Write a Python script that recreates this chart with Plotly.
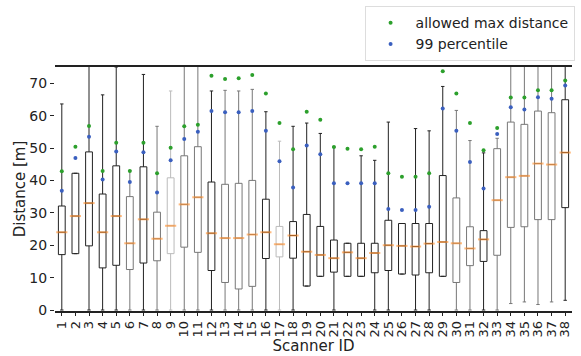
import plotly.graph_objects as go

# Scanner IDs and per-scanner distance statistics [m]
scanner_ids = list(range(1, 39))
q1 = [17.1, 17.4, 19.8, 13.0, 13.8, 12.5, 14.5, 15.2, 17.4, 19.4,
      17.8, 12.2, 8.5, 6.5, 7.3, 15.9, 16.4, 16.0, 7.4, 10.4,
      11.7, 10.4, 10.4, 11.5, 12.2, 11.1, 10.8, 11.5, 10.4, 8.5,
      13.7, 15.0, 16.9, 25.5, 25.7, 27.9, 27.9, 31.6]
median = [24.0, 29.0, 33.0, 24.0, 29.0, 20.6, 28.0, 22.0, 26.0, 32.6,
          34.8, 23.7, 22.2, 22.2, 23.3, 24.0, 20.3, 23.0, 18.0, 17.0,
          16.0, 17.8, 16.0, 17.6, 20.0, 19.8, 19.6, 20.5, 21.0, 20.6,
          19.0, 21.8, 33.9, 41.0, 41.4, 45.2, 44.9, 48.6]
q3 = [32.1, 42.2, 48.8, 35.8, 44.5, 35.0, 44.2, 30.2, 40.8, 47.6,
      50.4, 39.5, 38.8, 39.1, 40.0, 34.2, 25.8, 27.3, 29.5, 25.8,
      21.6, 20.6, 20.6, 20.6, 27.7, 26.7, 26.7, 26.7, 41.5, 34.6,
      25.7, 24.5, 49.8, 58.0, 57.3, 61.4, 60.9, 64.9]
whisker_low = [0.0, 17.4, 0.0, 0.0, 0.0, 0.0, 0.0, 0.0, 0.0, 0.0,
               0.0, 0.0, 0.0, 0.0, 0.0, 0.0, 0.0, 0.0, 7.4, 10.4,
               0.0, 10.4, 10.4, 0.0, 0.0, 11.1, 0.0, 0.0, 10.4, 0.0,
               0.0, 0.0, 0.0, 2.0, 2.5, 1.7, 2.5, 3.0]
whisker_high = [63.6, 42.2, 78.0, 66.4, 75.0, 43.0, 72.7, 56.7, 67.6, 78.0,
                78.0, 67.6, 67.8, 67.6, 68.1, 61.2, 52.1, 56.7, 57.7, 54.5,
                50.3, 20.6, 47.6, 46.2, 58.0, 26.7, 56.0, 55.3, 69.0, 61.6,
                52.3, 48.5, 53.0, 78.0, 78.0, 78.0, 78.0, 78.0]
allowed_max = [42.8, 50.4, 56.8, 42.9, 51.6, 42.9, 51.6, 42.2, 50.1, 56.7,
               57.2, 72.3, 71.3, 71.5, 72.5, 66.8, 57.7, 49.6, 61.2, 58.7,
               50.3, 49.8, 49.6, 50.4, 42.2, 41.1, 41.1, 42.2, 73.7, 66.8,
               57.7, 49.3, 56.2, 65.6, 65.6, 67.8, 67.8, 70.8]
p99 = [36.8, 46.9, 53.5, 40.3, 48.9, 39.5, 48.7, 36.3, 46.2, 52.8,
       55.0, 61.4, 61.0, 61.0, 61.4, 55.3, 45.9, 37.8, 50.8, 48.1,
       39.1, 39.1, 39.1, 39.1, 31.2, 30.9, 30.9, 31.9, 62.2, 55.3,
       45.7, 37.5, 54.3, 62.6, 61.9, 65.7, 65.2, 69.3]

# Outline shade of each box
DARK, MID, LIGHT = "#222222", "#777777", "#bbbbbb"
box_shade = [DARK, DARK, DARK, DARK, DARK, MID, DARK, MID, LIGHT, MID,
             MID, DARK, MID, MID, MID, DARK, LIGHT, DARK, DARK, DARK,
             DARK, DARK, DARK, DARK, DARK, DARK, DARK, DARK, DARK, MID,
             MID, DARK, MID, MID, MID, MID, MID, DARK]

FONT = "DejaVu Sans"
fig = go.Figure()

for i, sid in enumerate(scanner_ids):
    fig.add_trace(go.Box(
        x=[sid], q1=[q1[i]], median=[median[i]], q3=[q3[i]],
        lowerfence=[whisker_low[i]], upperfence=[whisker_high[i]],
        boxpoints=False, width=0.5, whiskerwidth=0.5,
        fillcolor="rgba(255,255,255,0)",
        line=dict(color=box_shade[i], width=1),
        showlegend=False, hoverinfo="skip",
    ))

# Medians in orange
fig.add_trace(go.Scatter(
    x=scanner_ids, y=median, mode="markers", showlegend=False,
    marker=dict(symbol="line-ew", size=8,
                line=dict(color="rgba(255,140,40,0.6)", width=2)),
    hoverinfo="skip",
))

fig.add_trace(go.Scatter(
    x=scanner_ids, y=allowed_max, mode="markers", name="allowed max distance",
    marker=dict(color="#2ca02c", size=4),
))
fig.add_trace(go.Scatter(
    x=scanner_ids, y=p99, mode="markers", name="99 percentile",
    marker=dict(color="#3a5fbf", size=4),
))

fig.update_layout(
    width=581, height=356,
    margin=dict(l=55, r=6, t=59, b=43),
    plot_bgcolor="white", paper_bgcolor="white",
    font=dict(family=FONT, size=14, color="#222222"),
    legend=dict(
        x=1.005, xanchor="right", y=1.024, yanchor="bottom",
        bordercolor="#dddddd", borderwidth=1, itemwidth=40,
        font=dict(family=FONT, size=14, color="#222222"),
        bgcolor="white",
    ),
    xaxis=dict(
        range=[0.5, 38.5],
        tickmode="array", tickvals=scanner_ids,
        ticktext=[str(s) for s in scanner_ids],
        tickangle=-90, ticks="outside", ticklen=3, tickcolor="#222222",
        tickfont=dict(size=13),
        showgrid=False, zeroline=False,
        showline=True, mirror=True, linecolor="#222222", linewidth=1.5,
        title=dict(text="Scanner ID", font=dict(size=15), standoff=2),
    ),
    yaxis=dict(
        range=[-0.3, 75],
        tickvals=[0, 10, 20, 30, 40, 50, 60, 70],
        ticks="outside", ticklen=4, tickcolor="#222222",
        tickfont=dict(size=14),
        showgrid=False, zeroline=False, showline=False,
        title=dict(text="Distance [m]", font=dict(size=15), standoff=0),
    ),
)

fig.write_html("out.html")
